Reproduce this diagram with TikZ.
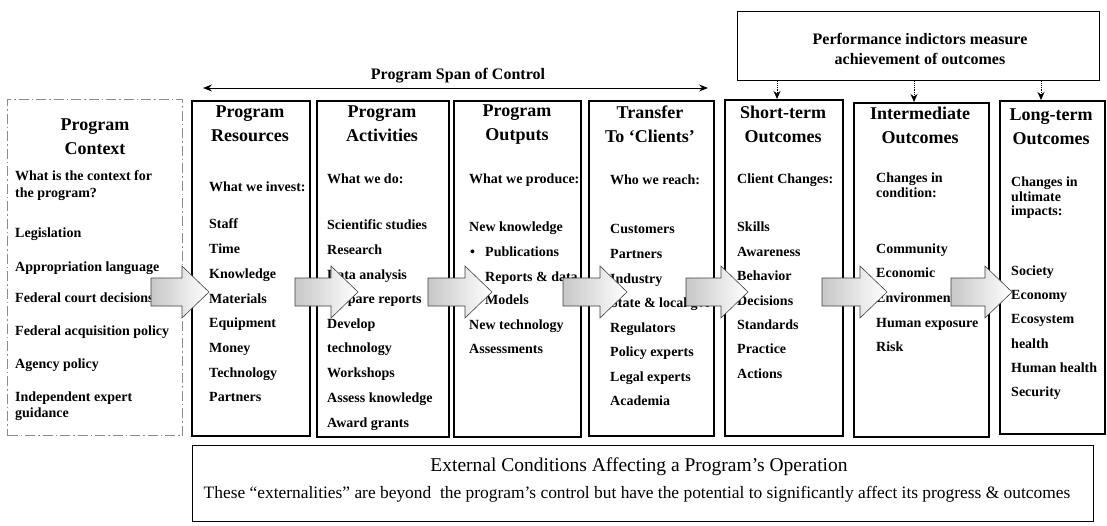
\documentclass[tikz,border=0pt]{standalone}
\usepackage{fontspec}
\setmainfont{Liberation Serif}
\usetikzlibrary{arrows.meta}

% column of left-aligned entries: name, x, {text/y-centre, ...}
\newcommand\textcol[3]{%
  \foreach \t/\yy [count=\i] in {#3}
    \node[item] (#1-\i) at (#2,\yy+4.5) {\t};}

% framed column: name, left, top, width, height
\newcommand\colframe[5]{%
  \node[colbox, anchor=north west, minimum width=#4pt, minimum height=#5pt] (#1) at (#2,#3) {};}

% broad flow arrow: name, shaft start, tip
\newcommand\blockarrow[3]{%
  \path[flowarrow] (#2,278) -- (#3-27,278) -- (#3-27,266) -- (#3,292)
    -- (#3-27,318) -- (#3-27,306) -- (#2,306) -- cycle;
  \coordinate (#1) at (#3,292);}

\begin{document}
\begin{tikzpicture}[x=1pt, y=-1pt,
  colbox/.style={draw, line width=1.6pt, inner sep=0pt},
  ctxbox/.style={draw=black!45, line width=1.1pt, inner sep=0pt,
    dash pattern=on 10pt off 3pt on 1.5pt off 3pt},
  head/.style={font=\fontsize{18}{24}\selectfont\bfseries, align=center, inner sep=0pt},
  item/.style={font=\fontsize{14}{16}\selectfont\bfseries, inner sep=0pt, anchor=base west},
  flowarrow/.style={draw=black!75, line width=0.6pt, left color=black!22, right color=white},
  tip/.style={-{Stealth[length=8pt, width=7pt, inset=2.5pt]}},
]
\useasboundingbox (0,0) rectangle (1107,525);

% ---- frames ----
\node[ctxbox, anchor=north west, minimum width=175pt, minimum height=336pt] (ctx) at (7,99) {};
\colframe{res}{191}{100}{118}{335}
\colframe{act}{316}{100}{132}{336}
\colframe{out}{453}{100}{127}{336}
\colframe{tra}{588}{100}{125}{335}
\colframe{sho}{724}{99}{118}{336}
\colframe{int}{853}{102}{135}{334}
\colframe{lon}{999}{100}{105}{333}
\node[colbox, line width=1.4pt, anchor=north west, minimum width=362pt, minimum height=69pt] (perf) at (737,11) {};
\node[colbox, line width=1.4pt, anchor=north west, minimum width=901pt, minimum height=76pt] (ext) at (192,445) {};

% ---- span of control ----
\coordinate (spanL) at (203,88);
\coordinate (spanR) at (708,88);
\draw[line width=1pt, {Stealth[length=9pt, width=7pt, inset=3pt]}-{Stealth[length=9pt, width=7pt, inset=3pt]}] (spanL) -- (spanR);
\node[font=\fontsize{16}{19}\selectfont\bfseries, inner sep=0pt] (spanlbl) at (458,76) {Program Span of Control};

% ---- performance indicators ----
\node[font=\fontsize{16}{20}\selectfont\bfseries, align=center, inner sep=0pt] (perftxt) at (920,49)
  {Performance indictors measure\\achievement of outcomes};
\draw[densely dotted, line width=0.8pt, tip] (777,0 |- perf.south) -- (777,0 |- sho.north);
\draw[densely dotted, line width=0.8pt, tip] (914,0 |- perf.south) -- (914,0 |- int.north);
\draw[densely dotted, line width=0.8pt, tip] (1041,0 |- perf.south) -- (1041,0 |- lon.north);

% ---- headings ----
\node[head] (ctx-h) at (95,137) {Program\\Context};
\node[head] (res-h) at (250,124) {Program\\Resources};
\node[head] (act-h) at (382,124) {Program\\Activities};
\node[head] (out-h) at (517,125) {Program\\Outputs};
\node[head] (tra-h) at (650,124) {Transfer\\To ‘Clients’};
\node[head] (sho-h) at (783,124) {Short-term\\Outcomes};
\node[head] (int-h) at (920,125) {Intermediate\\Outcomes};
\node[head] (lon-h) at (1051,127) {Long-term\\Outcomes};

% ---- column contents ----
\textcol{ctx}{15}{What is the context for/176, the program?/193, Legislation/233,
  Appropriation language/267, Federal court decisions/298, Federal acquisition policy/331,
  Agency policy/364, Independent expert/397, guidance/413}
\textcol{res}{209}{What we invest:/187, Staff/224, Time/249, Knowledge/274, Materials/299,
  Equipment/323, Money/348, Technology/373, Partners/397}
\textcol{act}{327}{What we do:/179, Scientific studies/225, Research/250, Data analysis/275,
  Prepare reports/299, Develop/324, technology/348, Workshops/373, Assess knowledge/398,
  Award grants/423}
\textcol{out}{469}{What we produce:/179, New knowledge/227, New technology/325, Assessments/349}
\textcol{outb}{470}{\textbullet/252, \textbullet/277, \textbullet/300}
\textcol{outl}{485}{Publications/252, Reports \& data/277, Models/300}
\textcol{tra}{610}{Who we reach:/180, Customers/229, Partners/254, Industry/279,
  State \& local gvt/303, Regulators/328, Policy experts/352, Legal experts/377, Academia/401}
\textcol{sho}{737}{Client Changes:/179, Skills/227, Awareness/252, Behavior/276, Decisions/301,
  Standards/325, Practice/349, Actions/374}
\textcol{int}{876}{Changes in/178, condition:/193, Community/249, Economic/273,
  Environmental/298, Human exposure/323, Risk/347}
\textcol{lon}{1011}{Changes in/182, ultimate/197, impacts:/211, Society/271, Economy/295,
  Ecosystem/319, health/344, Human health/368, Security/392}

% ---- flow arrows between stages ----
\blockarrow{a1}{151}{209}
\blockarrow{a2}{295}{358}
\blockarrow{a3}{428}{492}
\blockarrow{a4}{563}{627}
\blockarrow{a5}{686}{748}
\blockarrow{a6}{822}{887}
\blockarrow{a7}{951}{1012}

% ---- external conditions ----
\node[font=\fontsize{19.5}{22}\selectfont, inner sep=0pt] (ext-t) at (639,467)
  {External Conditions Affecting a Program’s Operation};
\node[font=\fontsize{17.4}{20}\selectfont, inner sep=0pt] (ext-s) at (637,494)
  {These “externalities” are beyond\ \ the program’s control but have the potential to significantly affect its progress \& outcomes};
\end{tikzpicture}
\end{document}
